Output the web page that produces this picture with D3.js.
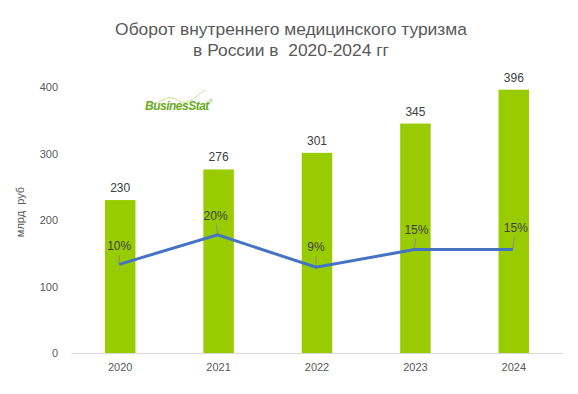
<!DOCTYPE html>
<html>
<head>
<meta charset="utf-8">
<script src="https://cdn.jsdelivr.net/npm/d3@7"></script>
<style>
  body { margin: 0; background: #fff; }
  svg { display: block; font-family: "Liberation Sans", Arial, sans-serif; }
</style>
</head>
<body>
<div id="chart"></div>
<script>
const years = ['2020', '2021', '2022', '2023', '2024'];
const turnover = [230, 276, 301, 345, 396];
const growth = [10, 20, 9, 15, 15];
const yTicks = [0, 100, 200, 300, 400];

const width = 578;
const height = 394;
const margin = {top: 87, right: 15, bottom: 41, left: 71};

const svg = d3.select('#chart').append('svg')
  .attr('width', width)
  .attr('height', height);

const x = d3.scaleBand()
  .domain(years)
  .range([margin.left, width - margin.right])
  .paddingInner(0.69)
  .paddingOuter(0.345);

const y = d3.scaleLinear()
  .domain([0, 400])
  .range([height - margin.bottom, margin.top]);

// secondary axis for growth line (hidden)
const y2 = d3.scaleLinear()
  .domain([-20, 70])
  .range([height - margin.bottom, margin.top]);

// title
svg.append('text')
  .attr('x', 291).attr('y', 35)
  .attr('text-anchor', 'middle')
  .attr('fill', '#595959')
  .style('font-size', '17.4px')
  .text('Оборот внутреннего медицинского туризма');
svg.append('text')
  .attr('x', 291).attr('y', 56)
  .attr('text-anchor', 'middle')
  .attr('fill', '#595959')
  .style('font-size', '17.4px')
  .style('white-space', 'pre')
  .text('в России в  2020-2024 гг');

// y axis labels
const yAxis = svg.append('g')
  .attr('transform', `translate(${margin.left - 13},0)`)
  .call(d3.axisLeft(y).tickValues(yTicks).tickSize(0).tickPadding(0));
yAxis.select('.domain').remove();
yAxis.selectAll('text')
  .attr('fill', '#595959')
  .style('font-size', '11px')
  .style('font-family', '"Liberation Sans", Arial, sans-serif');

svg.append('text')
  .attr('transform', `translate(24,${(y(0) + y(400)) / 2 - 8}) rotate(-90)`)
  .attr('text-anchor', 'middle')
  .attr('fill', '#595959')
  .style('font-size', '11px')
  .style('white-space', 'pre')
  .text('млрд  руб');

// bars
svg.append('g')
  .selectAll('rect')
  .data(turnover)
  .join('rect')
  .attr('x', (d, i) => x(years[i]))
  .attr('y', d => y(d))
  .attr('width', x.bandwidth())
  .attr('height', d => y(0) - y(d))
  .attr('fill', '#99cc00');

// x axis
const xAxis = svg.append('g')
  .attr('transform', `translate(0,${y(0)})`)
  .call(d3.axisBottom(x).tickSize(0).tickPadding(10));
xAxis.select('.domain')
  .attr('stroke', '#d9d9d9')
  .attr('stroke-width', 1);
xAxis.selectAll('text')
  .attr('fill', '#595959')
  .style('font-size', '11px')
  .style('font-family', '"Liberation Sans", Arial, sans-serif');

// bar value labels
svg.append('g')
  .selectAll('text')
  .data(turnover)
  .join('text')
  .attr('x', (d, i) => x(years[i]) + x.bandwidth() / 2)
  .attr('y', d => y(d) - 8)
  .attr('text-anchor', 'middle')
  .attr('fill', '#404040')
  .style('font-size', '12px')
  .text(d => d);

// growth line
const cx = i => x(years[i]) + x.bandwidth() / 2 - 1;
const line = d3.line()
  .x((d, i) => cx(i))
  .y(d => y2(d));

// leader lines + labels
const labelDx = [0, -2, 0, 2, 3];
const labelDy = [-18, -19, -20, -20, -22];
svg.append('g')
  .selectAll('line')
  .data(growth)
  .join('line')
  .attr('x1', (d, i) => cx(i))
  .attr('y1', d => y2(d))
  .attr('x2', (d, i) => cx(i) + labelDx[i] * 0.6)
  .attr('y2', (d, i) => y2(d) + labelDy[i] + 9)
  .attr('stroke', '#8c8c8c')
  .attr('stroke-width', 1);

svg.append('path')
  .datum(growth)
  .attr('d', line)
  .attr('fill', 'none')
  .attr('stroke', '#4472c4')
  .attr('stroke-width', 3);

svg.append('g')
  .selectAll('text')
  .data(growth)
  .join('text')
  .attr('x', (d, i) => cx(i) + labelDx[i])
  .attr('y', (d, i) => y2(d) + labelDy[i] + 4)
  .attr('text-anchor', 'middle')
  .attr('fill', '#404040')
  .style('font-size', '12px')
  .text(d => d + '%');

// logo
const logo = svg.append('g').attr('transform', 'translate(145,110)');
logo.append('path')
  .attr('d', 'M8,-6 C18,-9 22,-14 28,-12 C34,-10 36,-6 42,-8 C48,-10 54,-16 60,-20')
  .attr('fill', 'none')
  .attr('stroke', '#b5d96b')
  .attr('stroke-width', 0.8);
logo.append('text')
  .attr('x', 0).attr('y', 0)
  .attr('fill', '#6aaa1e')
  .style('font-size', '12px')
  .style('font-weight', 'bold')
  .style('font-style', 'italic')
  .style('letter-spacing', '-0.5px')
  .text('BusinesStat');
logo.append('text')
  .attr('x', 64).attr('y', -7)
  .attr('fill', '#6aaa1e')
  .style('font-size', '5px')
  .text('®');
</script>
</body>
</html>
